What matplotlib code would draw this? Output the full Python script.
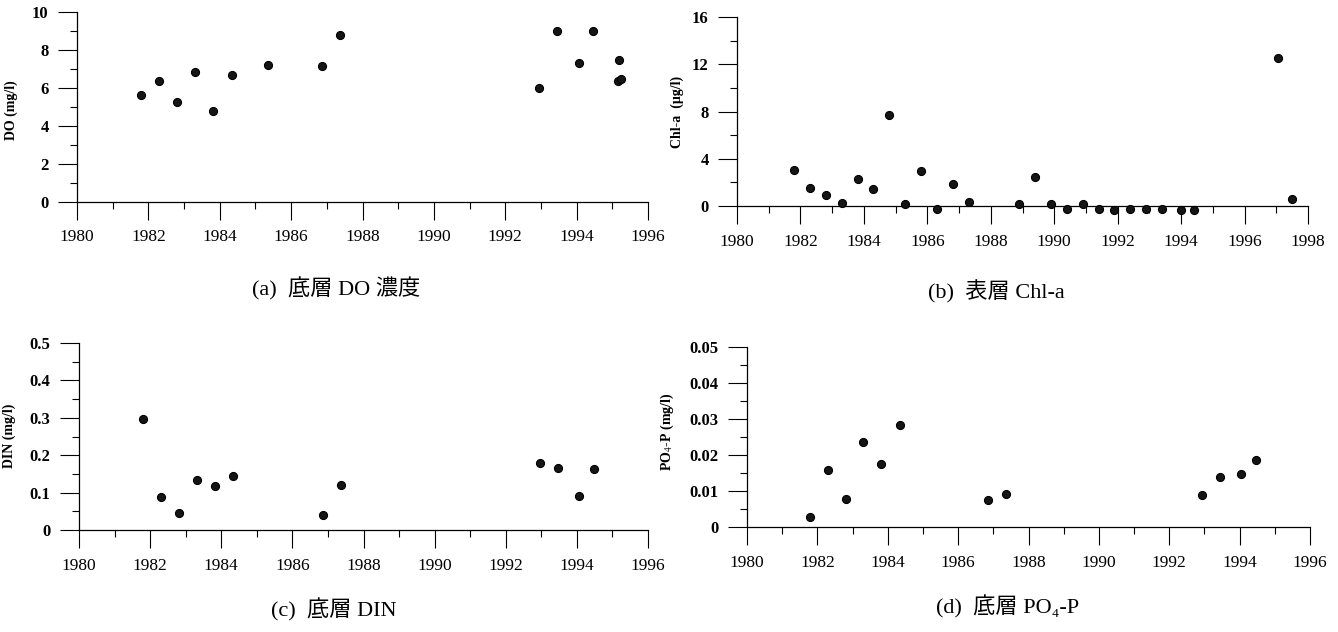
import matplotlib
matplotlib.use("Agg")
import matplotlib.pyplot as plt
from matplotlib.ticker import FixedLocator, MultipleLocator

plt.rcParams["font.family"] = ["Liberation Serif", "Noto Sans CJK JP", "DejaVu Serif"]
plt.rcParams["mathtext.fontset"] = "stix"

W, H = 1338, 632

# (a) bottom DO
do_years = [1981.79, 1982.30, 1982.81, 1983.31, 1983.82, 1984.33, 1985.35, 1986.87,
            1987.37, 1992.94, 1993.46, 1994.07, 1994.47, 1995.19, 1995.16, 1995.23]
do_values = [5.63, 6.35, 5.26, 6.84, 4.77, 6.65, 7.19, 7.14,
             8.81, 6.00, 9.00, 7.32, 8.98, 7.49, 6.37, 6.47]

# (b) surface Chl-a
chl_years = [1981.79, 1982.30, 1982.80, 1983.30, 1983.80, 1984.30, 1984.80, 1985.30,
             1985.80, 1986.30, 1986.80, 1987.30, 1988.90, 1989.40, 1989.90, 1990.40,
             1990.90, 1991.40, 1991.90, 1992.40, 1992.90, 1993.40, 1994.00, 1994.40,
             1997.05, 1997.50]
chl_values = [3.08, 1.55, 0.90, 0.28, 2.29, 1.41, 7.74, 0.20,
              2.94, -0.23, 1.86, 0.37, 0.17, 2.46, 0.14, -0.28,
              0.17, -0.28, -0.31, -0.25, -0.25, -0.28, -0.34, -0.34,
              12.5, 0.56]

# (c) bottom DIN
din_years = [1981.80, 1982.30, 1982.82, 1983.33, 1983.83, 1984.34, 1986.87, 1987.36,
             1992.95, 1993.46, 1994.06, 1994.47]
din_values = [0.297, 0.089, 0.046, 0.133, 0.117, 0.144, 0.041, 0.119,
              0.178, 0.167, 0.091, 0.163]

# (d) bottom PO4-P
po4_years = [1981.79, 1982.30, 1982.80, 1983.31, 1983.82, 1984.34, 1986.86, 1987.37,
             1992.94, 1993.45, 1994.04, 1994.46]
po4_values = [0.0028, 0.0157, 0.0077, 0.0236, 0.0176, 0.0284, 0.0074, 0.0093,
              0.0088, 0.0138, 0.0148, 0.0187]

do_ticks = [0, 2, 4, 6, 8, 10]
do_labels = ["0", "2", "4", "6", "8", "10"]
chl_ticks = [0, 4, 8, 12, 16]
chl_labels = ["0", "4", "8", "12", "16"]
din_ticks = [0, 0.1, 0.2, 0.3, 0.4, 0.5]
din_labels = ["0", "0.1", "0.2", "0.3", "0.4", "0.5"]
po4_ticks = [0, 0.01, 0.02, 0.03, 0.04, 0.05]
po4_labels = ["0", "0.01", "0.02", "0.03", "0.04", "0.05"]

panels = [
    dict(x=do_years, y=do_values, ticks=do_ticks, labels=do_labels, minor=1,
         xmax=1996, ymin=0, ylabel="DO (mg/l)",
         caption="(a)  底層 DO 濃度",
         box=(77, 648, 12, 201.5), ylab_pos=(18, 110), cap_pos=(336, 289)),
    dict(x=chl_years, y=chl_values, ticks=chl_ticks, labels=chl_labels, minor=2,
         xmax=1998, ymin=-0.6, ylabel="Chl-a  (μg/l)",
         caption="(b)  表層 Chl-a",
         box=(737, 1308, 17, 206), ylab_pos=(684, 112), cap_pos=(996, 292)),
    dict(x=din_years, y=din_values, ticks=din_ticks, labels=din_labels, minor=0.05,
         xmax=1996, ymin=0, ylabel="DIN (mg/l)",
         caption="(c)  底層 DIN",
         box=(79, 648, 343, 530), ylab_pos=(16, 436), cap_pos=(334, 610)),
    dict(x=po4_years, y=po4_values, ticks=po4_ticks, labels=po4_labels, minor=0.005,
         xmax=1996, ymin=0, ylabel="PO$_4$-P (mg/l)",
         caption="(d)  底層 PO₄-P",
         box=(747, 1310, 347, 527), ylab_pos=(676, 432), cap_pos=(1008, 607)),
]

fig = plt.figure(figsize=(W / 100, H / 100), dpi=100)

for p in panels:
    left, right, top, zero = p["box"]
    ymax = p["ticks"][-1]
    scale = (zero - top) / ymax
    bottom = zero - p["ymin"] * scale
    ax = fig.add_axes([left / W, 1 - bottom / H, (right - left) / W, (bottom - top) / H])

    ax.plot(p["x"], p["y"], "o", color="#151515", markersize=5.8,
            markeredgecolor="black", markeredgewidth=0.8, clip_on=False, zorder=3)

    ax.set_xlim(1980, p["xmax"])
    ax.set_ylim(p["ymin"], ymax)

    for side in ("top", "right"):
        ax.spines[side].set_visible(False)
    ax.spines["bottom"].set_position(("data", 0))
    ax.spines["bottom"].set_bounds(1980, p["xmax"])
    ax.spines["left"].set_bounds(0, ymax)
    for side in ("bottom", "left"):
        ax.spines[side].set_linewidth(0.9)

    ax.xaxis.set_major_locator(MultipleLocator(2))
    ax.xaxis.set_minor_locator(MultipleLocator(1))
    ax.yaxis.set_major_locator(FixedLocator(p["ticks"]))
    ax.set_yticklabels(p["labels"])
    ax.yaxis.set_minor_locator(MultipleLocator(p["minor"]))

    ax.tick_params(axis="x", which="major", direction="out", length=13, width=0.8,
                   pad=7, labelsize=12.5)
    ax.tick_params(axis="x", which="minor", direction="out", length=5, width=0.8)
    ax.tick_params(axis="y", which="major", direction="out", length=13.5, width=0.8,
                   pad=7, labelsize=12)
    ax.tick_params(axis="y", which="minor", direction="out", length=5, width=0.8)
    for lab in ax.get_yticklabels():
        lab.set_fontweight("bold")

    ax.set_ylabel(p["ylabel"], fontsize=10, fontweight="bold")
    ax.yaxis.set_label_coords(p["ylab_pos"][0] / W, 1 - p["ylab_pos"][1] / H,
                              transform=fig.transFigure)

    fig.text(p["cap_pos"][0] / W, 1 - p["cap_pos"][1] / H, p["caption"],
             ha="center", va="center", fontsize=16)

fig.savefig("out.png", dpi=100)
